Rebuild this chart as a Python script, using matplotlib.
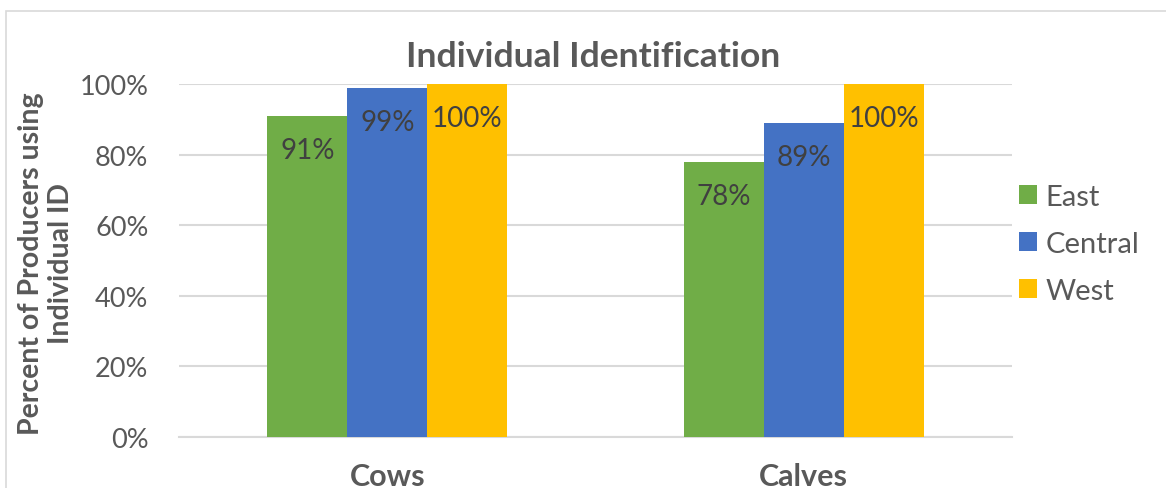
import matplotlib
matplotlib.use("Agg")
import matplotlib.pyplot as plt
import numpy as np
from matplotlib.patches import Patch, Rectangle

plt.rcParams["font.family"] = ["Lato", "DejaVu Sans"]

categorias = ["Cows", "Calves"]
regiones = ["East", "Central", "West"]
colores = ["#70AD47", "#4472C4", "#FFC000"]
valores = {
    "East": [91, 78],
    "Central": [99, 89],
    "West": [100, 100],
}
ticks_y = [0, 20, 40, 60, 80, 100]

gris_texto = "#595959"
gris_linea = "#D9D9D9"

fig = plt.figure(figsize=(11.66, 4.89), dpi=100)
ax = fig.add_axes([179 / 1166, 51 / 489, 833 / 1166, 353 / 489])

x = np.arange(len(categorias))
ancho = 0.192
for k, (reg, col) in enumerate(zip(regiones, colores)):
    pos = x + (k - 1) * ancho
    vals = np.array(valores[reg]) / 100
    barras = ax.bar(pos, vals, width=ancho, color=col, zorder=3)
    for b, v in zip(barras, valores[reg]):
        ax.annotate(f"{v}%", (b.get_x() + b.get_width() / 2, b.get_height()),
                    xytext=(0, -34), textcoords="offset pixels",
                    ha="center", va="center", fontsize=20, color="#404040",
                    zorder=4)

ax.set_xlim(-0.5, 1.5)
ax.set_ylim(0, 1)
ax.set_yticks([t / 100 for t in ticks_y])
ax.set_yticklabels([f"{t}%" for t in ticks_y])
ax.set_xticks(x)
ax.set_xticklabels(categorias, fontweight="bold")
ax.tick_params(axis="y", length=0, pad=22, labelsize=19.5, labelcolor=gris_texto)
ax.tick_params(axis="x", length=0, pad=18, labelsize=22, labelcolor=gris_texto)
ax.grid(axis="y", color=gris_linea, linewidth=1.5, zorder=0)
for s in ["top", "right", "left"]:
    ax.spines[s].set_visible(False)
ax.spines["bottom"].set_color(gris_linea)
ax.spines["bottom"].set_linewidth(1.5)

fig.text(593 / 1166, 1 - 57 / 489, "Individual Identification",
         ha="center", va="center", fontsize=25.5, fontweight="bold", color=gris_texto)
fig.text(46 / 1166, 1 - 264 / 489, "Percent of Producers using\nIndividual ID",
         ha="center", va="center", rotation=90, fontsize=20.5, fontweight="bold",
         color=gris_texto, linespacing=1.15)

leyenda = [Patch(facecolor=c, label=r) for r, c in zip(regiones, colores)]
fig.legend(handles=leyenda, loc="upper left", bbox_to_anchor=(1019 / 1166, 1 - 185 / 489),
           frameon=False, fontsize=21, labelcolor=gris_texto, handlelength=0.62,
           handleheight=0.62, handletextpad=0.28, labelspacing=0.72, borderaxespad=0,
           borderpad=0)

# marco del grafico
fig.add_artist(Rectangle((6 / 1166, -0.2), 1.2, 1.2 - 12 / 489, transform=fig.transFigure,
                         fill=False, edgecolor=gris_linea, linewidth=1.2))

fig.savefig("out.png", dpi=100)
